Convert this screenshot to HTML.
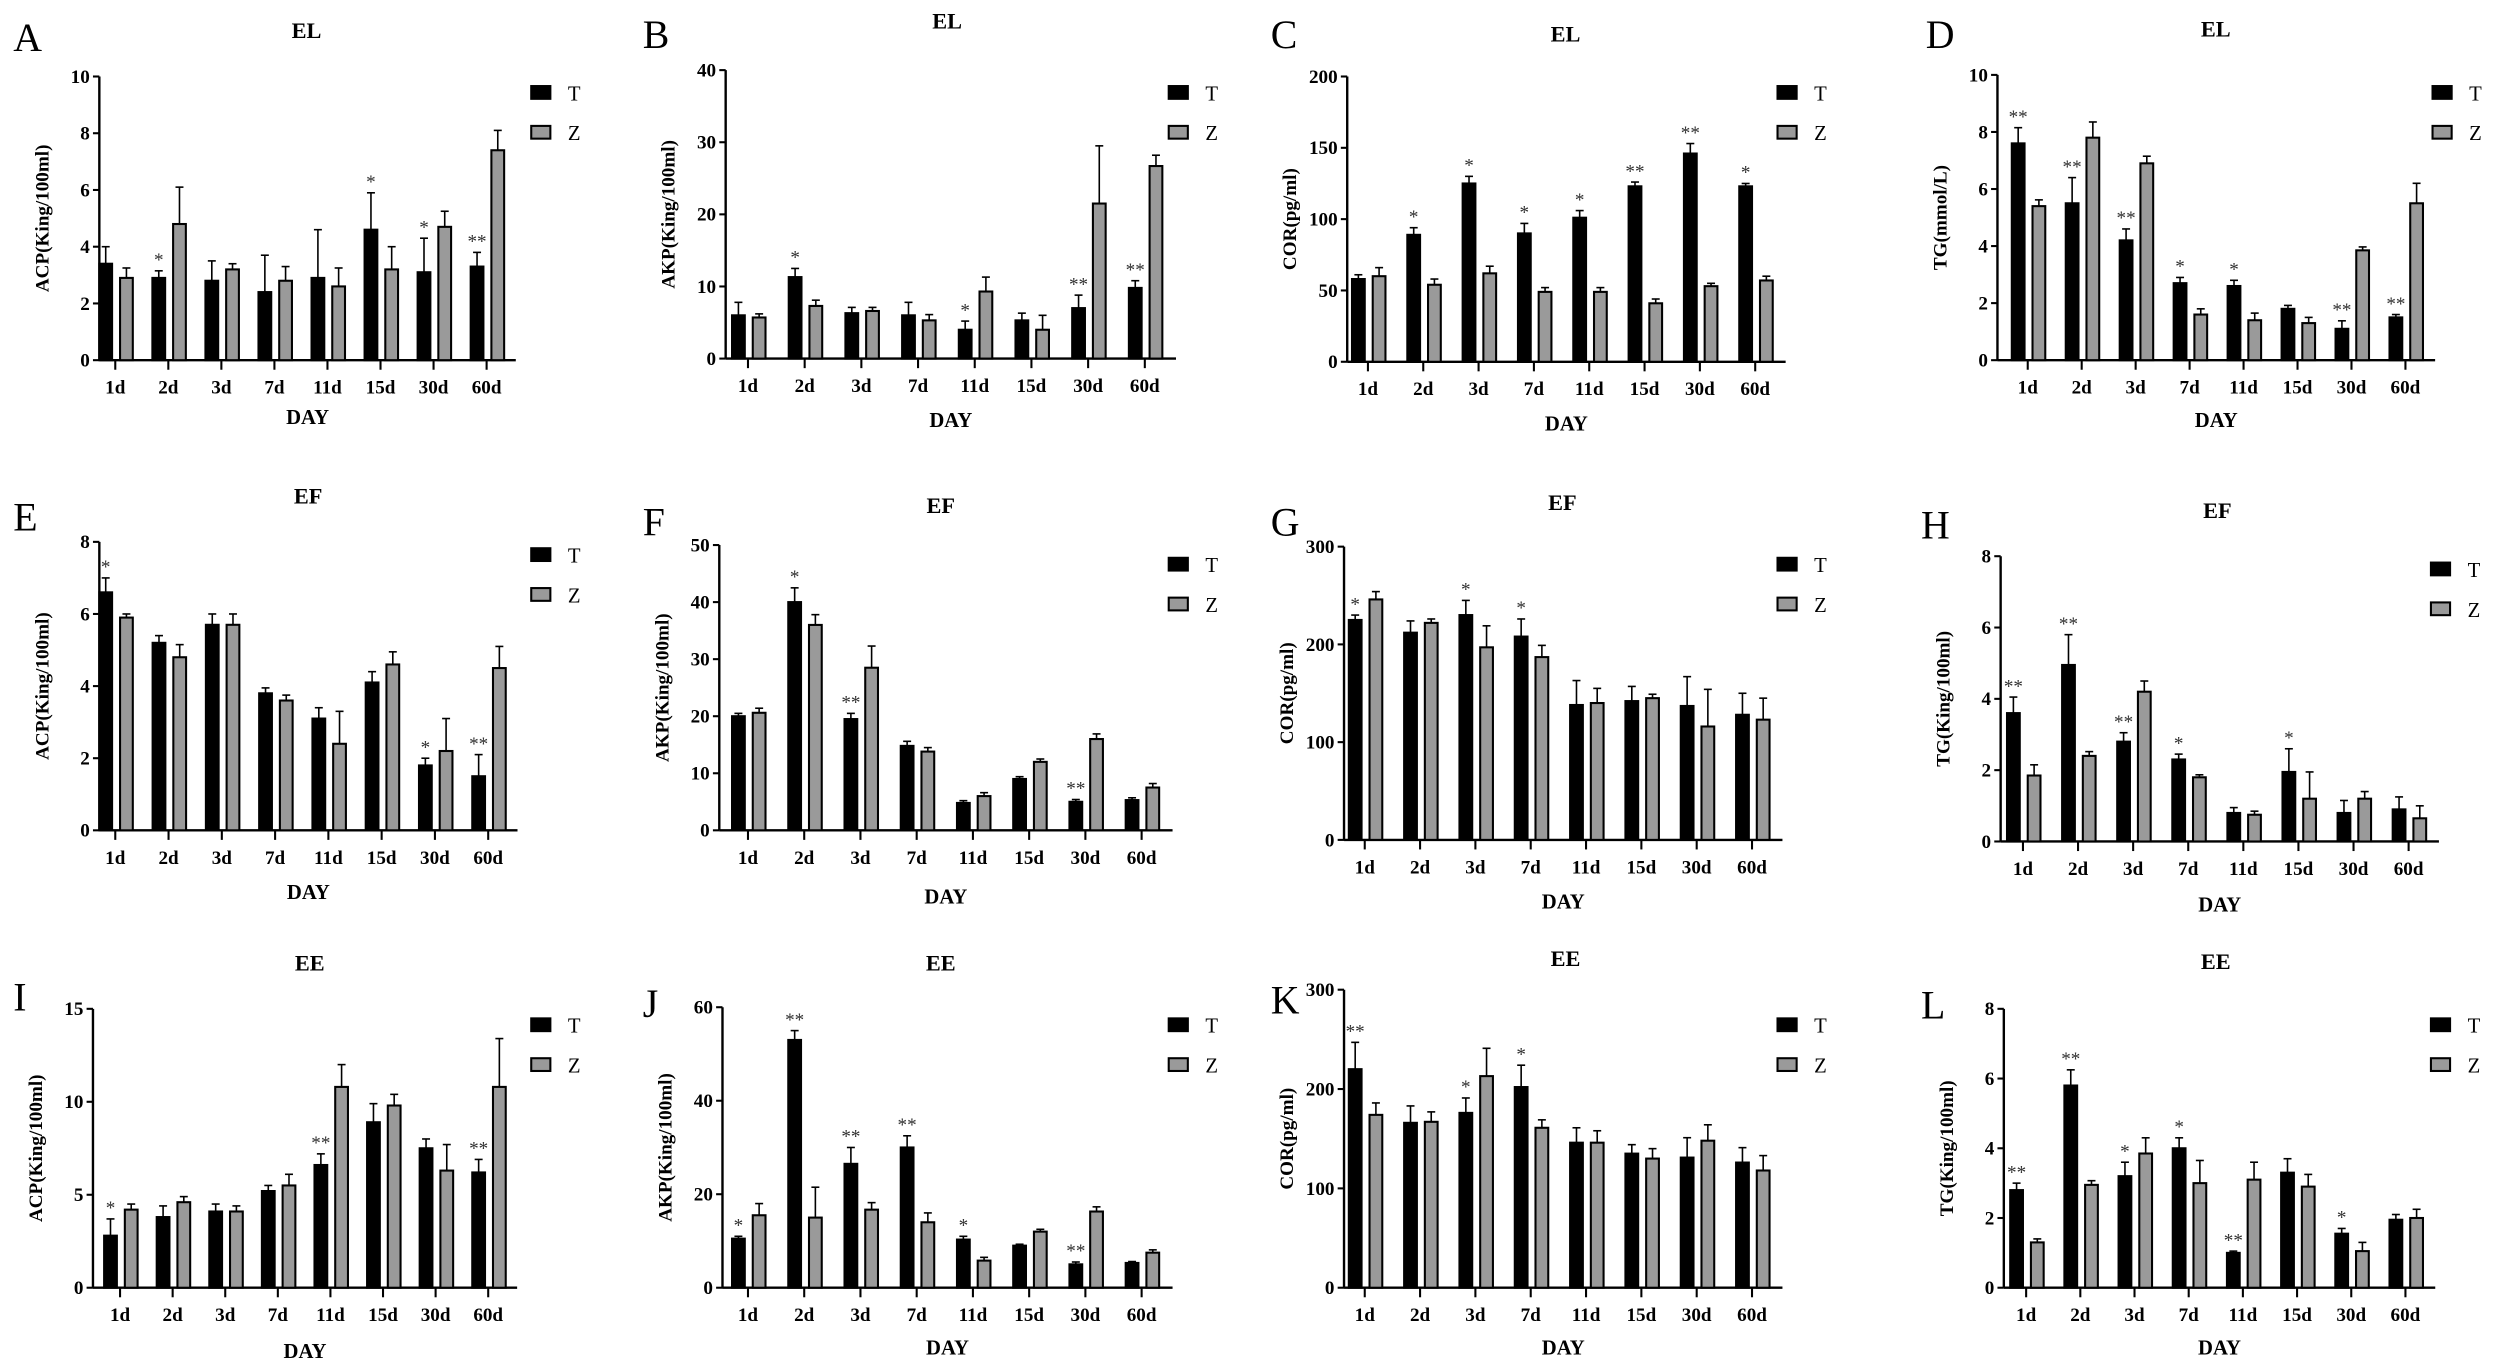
<!DOCTYPE html>
<html><head><meta charset="utf-8"><style>
html,body{margin:0;padding:0;background:#fff;}
svg{display:block;font-family:"Liberation Serif",serif;}
</style></head><body>
<svg id="fig" width="2500" height="1369" viewBox="0 0 1568 859" xmlns="http://www.w3.org/2000/svg"></svg>
<script>
// ---- data (per panel) ----
const categories = ["1d","2d","3d","7d","11d","15d","30d","60d"];
const A_T=[3.4,2.9,2.8,2.4,2.9,4.6,3.1,3.3], A_Te=[.6,.25,.7,1.3,1.7,1.3,1.2,.5];
const A_Z=[2.9,4.8,3.2,2.8,2.6,3.2,4.7,7.4], A_Ze=[.35,1.3,.2,.5,.65,.8,.55,.7];
const A_S=["","*","","","","*","*","**"];
const B_T=[6,11.3,6.3,6,4,5.3,7,9.8], B_Te=[1.8,1.2,.8,1.8,1.2,1,1.8,1];
const B_Z=[5.7,7.3,6.6,5.3,9.3,4,21.5,26.7], B_Ze=[.5,.8,.5,.8,2,2,8,1.5];
const B_S=["","*","","","*","","**","**"];
const C_T=[58,89,125,90,101,123,146,123], C_Te=[3,5,5,7,5,3,7,2];
const C_Z=[60,54,62,49,49,41,53,57], C_Ze=[6,4,5,3,3,3,2,3];
const C_S=["","*","*","*","*","**","**","*"];
const D_T=[7.6,5.5,4.2,2.7,2.6,1.8,1.1,1.5], D_Te=[.55,.9,.4,.2,.2,.12,.28,.1];
const D_Z=[5.4,7.8,6.9,1.6,1.4,1.3,3.85,5.5], D_Ze=[.22,.55,.25,.2,.25,.2,.12,.7];
const D_S=["**","**","**","*","*","","**","**"];
const E_T=[6.6,5.2,5.7,3.8,3.1,4.1,1.8,1.5], E_Te=[.4,.2,.3,.15,.3,.3,.2,.6];
const E_Z=[5.9,4.8,5.7,3.6,2.4,4.6,2.2,4.5], E_Ze=[.1,.35,.3,.15,.9,.35,.9,.6];
const E_S=["*","","","","","","*","**"];
const F_T=[20,40,19.5,14.8,4.8,9,5,5.3], F_Te=[.5,2.5,1,.8,.4,.4,.4,.4];
const F_Z=[20.6,36,28.5,13.8,6,12,16,7.5], F_Ze=[.8,1.8,3.8,.7,.6,.5,.9,.7];
const F_S=["","*","**","","","","**",""];
const G_T=[225,212,230,208,138,142,137,128], G_Te=[5,12,15,18,25,15,30,22];
const G_Z=[246,222,197,187,140,145,116,123], G_Ze=[8,4,22,12,15,4,38,22];
const G_S=["*","","*","*","","","",""];
const H_T=[3.6,4.95,2.8,2.3,0.8,1.95,0.8,0.9], H_Te=[.45,.85,.25,.15,.15,.65,.35,.35];
const H_Z=[1.85,2.4,4.2,1.8,.75,1.2,1.2,.65], H_Ze=[.3,.12,.3,.07,.1,.75,.2,.35];
const H_S=["**","**","**","*","","*","",""];
const I_T=[2.8,3.8,4.1,5.2,6.6,8.9,7.5,6.2], I_Te=[.9,.6,.4,.3,.6,1,.5,.7];
const I_Z=[4.2,4.6,4.1,5.5,10.8,9.8,6.3,10.8], I_Ze=[.3,.3,.3,.6,1.2,.6,1.4,2.6];
const I_S=["*","","","","**","","","**"];
const J_T=[10.5,53,26.5,30,10.3,9,5,5.3], J_Te=[.5,2,3.5,2.5,.7,.3,.5,.3];
const J_Z=[15.5,15,16.7,14,5.8,12,16.3,7.5], J_Ze=[2.5,6.5,1.5,2,.7,.5,1,.6];
const J_S=["*","**","**","**","*","","**",""];
const K_T=[220,166,176,202,146,135,131,126], K_Te=[27,17,15,22,15,9,20,15];
const K_Z=[174,167,213,161,146,130,148,118], K_Ze=[12,10,28,8,12,10,16,15];
const K_S=["**","","*","*","","","",""];
const L_T=[2.8,5.8,3.2,4,1,3.3,1.55,1.95], L_Te=[.2,.45,.4,.3,.05,.4,.15,.15];
const L_Z=[1.3,2.95,3.85,3,3.1,2.9,1.05,2], L_Ze=[.1,.12,.45,.65,.5,.35,.25,.25];
const L_S=["**","**","*","*","**","","*",""];
const A_ticks=[0,2,4,6,8,10], B_ticks=[0,10,20,30,40], C_ticks=[0,50,100,150,200], D_ticks=[0,2,4,6,8,10];
const E_ticks=[0,2,4,6,8], F_ticks=[0,10,20,30,40,50], G_ticks=[0,100,200,300], H_ticks=[0,2,4,6,8];
const I_ticks=[0,5,10,15], J_ticks=[0,20,40,60], K_ticks=[0,100,200,300], L_ticks=[0,2,4,6,8];

// ---- layout ----
const panels=[
 {id:"A",title:"EL",yl:"ACP(King/100ml)",ax:62,top:48,bot:226,c0:72,c1:305,letter:[8,32],ttl:[192,24],leg:[333,58],day:266,T:A_T,Te:A_Te,Z:A_Z,Ze:A_Ze,S:A_S,ticks:A_ticks},
 {id:"B",title:"EL",yl:"AKP(King/100ml)",ax:455,top:44,bot:225,c0:469,c1:718,letter:[403,30],ttl:[594,18],leg:[733,58],day:268,T:B_T,Te:B_Te,Z:B_Z,Ze:B_Ze,S:B_S,ticks:B_ticks},
 {id:"C",title:"EL",yl:"COR(pg/ml)",ax:845,top:48,bot:227,c0:858,c1:1101,letter:[797,30],ttl:[982,26],leg:[1115,58],day:270,T:C_T,Te:C_Te,Z:C_Z,Ze:C_Ze,S:C_S,ticks:C_ticks},
 {id:"D",title:"EL",yl:"TG(mmol/L)",ax:1253,top:47,bot:226,c0:1272,c1:1509,letter:[1208,30],ttl:[1390,23],leg:[1526,58],day:268,T:D_T,Te:D_Te,Z:D_Z,Ze:D_Ze,S:D_S,ticks:D_ticks},
 {id:"E",title:"EF",yl:"ACP(King/100ml)",ax:62,top:340,bot:521,c0:72,c1:306,letter:[8,333],ttl:[193,316],leg:[333,348],day:564,T:E_T,Te:E_Te,Z:E_Z,Ze:E_Ze,S:E_S,ticks:E_ticks},
 {id:"F",title:"EF",yl:"AKP(King/100ml)",ax:451,top:342,bot:521,c0:469,c1:716,letter:[403,336],ttl:[590,322],leg:[733,354],day:567,T:F_T,Te:F_Te,Z:F_Z,Ze:F_Ze,S:F_S,ticks:F_ticks},
 {id:"G",title:"EF",yl:"COR(pg/ml)",ax:843,top:343,bot:527,c0:856,c1:1099,letter:[797,336],ttl:[980,320],leg:[1115,354],day:570,T:G_T,Te:G_Te,Z:G_Z,Ze:G_Ze,S:G_S,ticks:G_ticks},
 {id:"H",title:"EF",yl:"TG(King/100ml)",ax:1255,top:349,bot:528,c0:1269,c1:1511,letter:[1205,338],ttl:[1391,325],leg:[1525,357],day:572,T:H_T,Te:H_Te,Z:H_Z,Ze:H_Ze,S:H_S,ticks:H_ticks},
 {id:"I",title:"EE",yl:"ACP(King/100ml)",ax:58,top:633,bot:808,c0:75,c1:306,letter:[8,634],ttl:[194,609],leg:[333,643],day:852,T:I_T,Te:I_Te,Z:I_Z,Ze:I_Ze,S:I_S,ticks:I_ticks},
 {id:"J",title:"EE",yl:"AKP(King/100ml)",ax:453,top:632,bot:808,c0:469,c1:716,letter:[403,638],ttl:[590,609],leg:[733,643],day:850,T:J_T,Te:J_Te,Z:J_Z,Ze:J_Ze,S:J_S,ticks:J_ticks},
 {id:"K",title:"EE",yl:"COR(pg/ml)",ax:843,top:621,bot:808,c0:856,c1:1099,letter:[797,636],ttl:[982,606],leg:[1115,643],day:850,T:K_T,Te:K_Te,Z:K_Z,Ze:K_Ze,S:K_S,ticks:K_ticks},
 {id:"L",title:"EE",yl:"TG(King/100ml)",ax:1257,top:633,bot:808,c0:1271,c1:1509,letter:[1205,639],ttl:[1390,608],leg:[1525,643],day:850,T:L_T,Te:L_Te,Z:L_Z,Ze:L_Ze,S:L_S,ticks:L_ticks}
];
const NS="http://www.w3.org/2000/svg";
const svg=document.getElementById("fig");
function mk(tag,attrs,parent,text){const e=document.createElementNS(NS,tag);for(const k in attrs)e.setAttribute(k,attrs[k]);if(text!==undefined)e.textContent=text;(parent||svg).appendChild(e);return e;}
panels.forEach(p=>{
  const g=mk("g",{});
  
  
  const ymax=p.ticks[p.ticks.length-1];
  const y=v=>p.bot-(v/ymax)*(p.bot-p.top);
  const step=(p.c1-p.c0)/(categories.length-1);
  const x=i=>p.c0+i*step;
  const xEnd=p.c1+step*0.55;
  let t=mk("text",{x:p.letter[0],y:p.letter[1],"font-size":25},g,p.id);
  
  
  t=mk("text",{x:p.ttl[0],y:p.ttl[1],"font-size":14,"font-weight":"bold","text-anchor":"middle"},g,p.title);
  
  
  let ax=mk("line",{x1:p.ax,y1:p.top,x2:p.ax,y2:p.bot,stroke:"#000","stroke-width":1.5},g);
  
  
  ax=mk("line",{x1:p.ax,y1:p.bot,x2:xEnd,y2:p.bot,stroke:"#000","stroke-width":1.5},g);
  
  
  p.ticks.forEach(v=>{
    mk("line",{x1:p.ax-4,y1:y(v),x2:p.ax,y2:y(v),stroke:"#000","stroke-width":1.3},g);
    const tl=mk("text",{x:p.ax-6,y:y(v)+4,"font-size":12,"font-weight":"bold","text-anchor":"end"},g,String(v));
    
    
  });
  categories.forEach((c,i)=>{
    mk("line",{x1:x(i),y1:p.bot,x2:x(i),y2:p.bot+6,stroke:"#000","stroke-width":1.3},g);
    const tl=mk("text",{x:x(i),y:p.bot+21,"font-size":12,"font-weight":"bold","text-anchor":"middle"},g,c);
    
    
    const series=[[p.T,p.Te,-6,"#000"],[p.Z,p.Ze,7,"#9a9a9a"]];
    series.forEach((s,k)=>{
      const v=s[0][i],e=s[1][i],cx=x(i)+s[2],w=8;
      const top=y(v+e);
      mk("line",{x1:cx,y1:y(v),x2:cx,y2:top,stroke:"#000","stroke-width":1},g);
      mk("line",{x1:cx-2.5,y1:top,x2:cx+2.5,y2:top,stroke:"#000","stroke-width":1},g);
      const b=mk("rect",{x:cx-w/2,y:y(v),width:w,height:p.bot-y(v),fill:s[3],stroke:"#000","stroke-width":1.3},g);
      
      
      if(k===0&&p.S[i]){
        const st=mk("text",{x:cx,y:top-3,"font-size":12,fill:"#333","text-anchor":"middle"},g,p.S[i]);
        
        
      }
    });
  });
  const cy=(p.top+p.bot)/2;
  t=mk("text",{x:0,y:0,"font-size":12,"font-weight":"bold","text-anchor":"middle",transform:`translate(${p.ax-32},${cy}) rotate(-90)`},g,p.yl);
  
  
  t=mk("text",{x:(p.ax+xEnd)/2,y:p.day,"font-size":13,"font-weight":"bold","text-anchor":"middle"},g,"DAY");
  
  
  [["T","#000",0],["Z","#9a9a9a",25]].forEach(l=>{
    const lg=mk("g",{},g);
    
    
    mk("rect",{x:p.leg[0],y:p.leg[1]+l[2]-4,width:12,height:8,fill:l[1],stroke:"#000","stroke-width":1.3},lg);
    mk("text",{x:p.leg[0]+23,y:p.leg[1]+l[2]+5,"font-size":13},lg,l[0]);
  });
});
</script>
</body></html>
